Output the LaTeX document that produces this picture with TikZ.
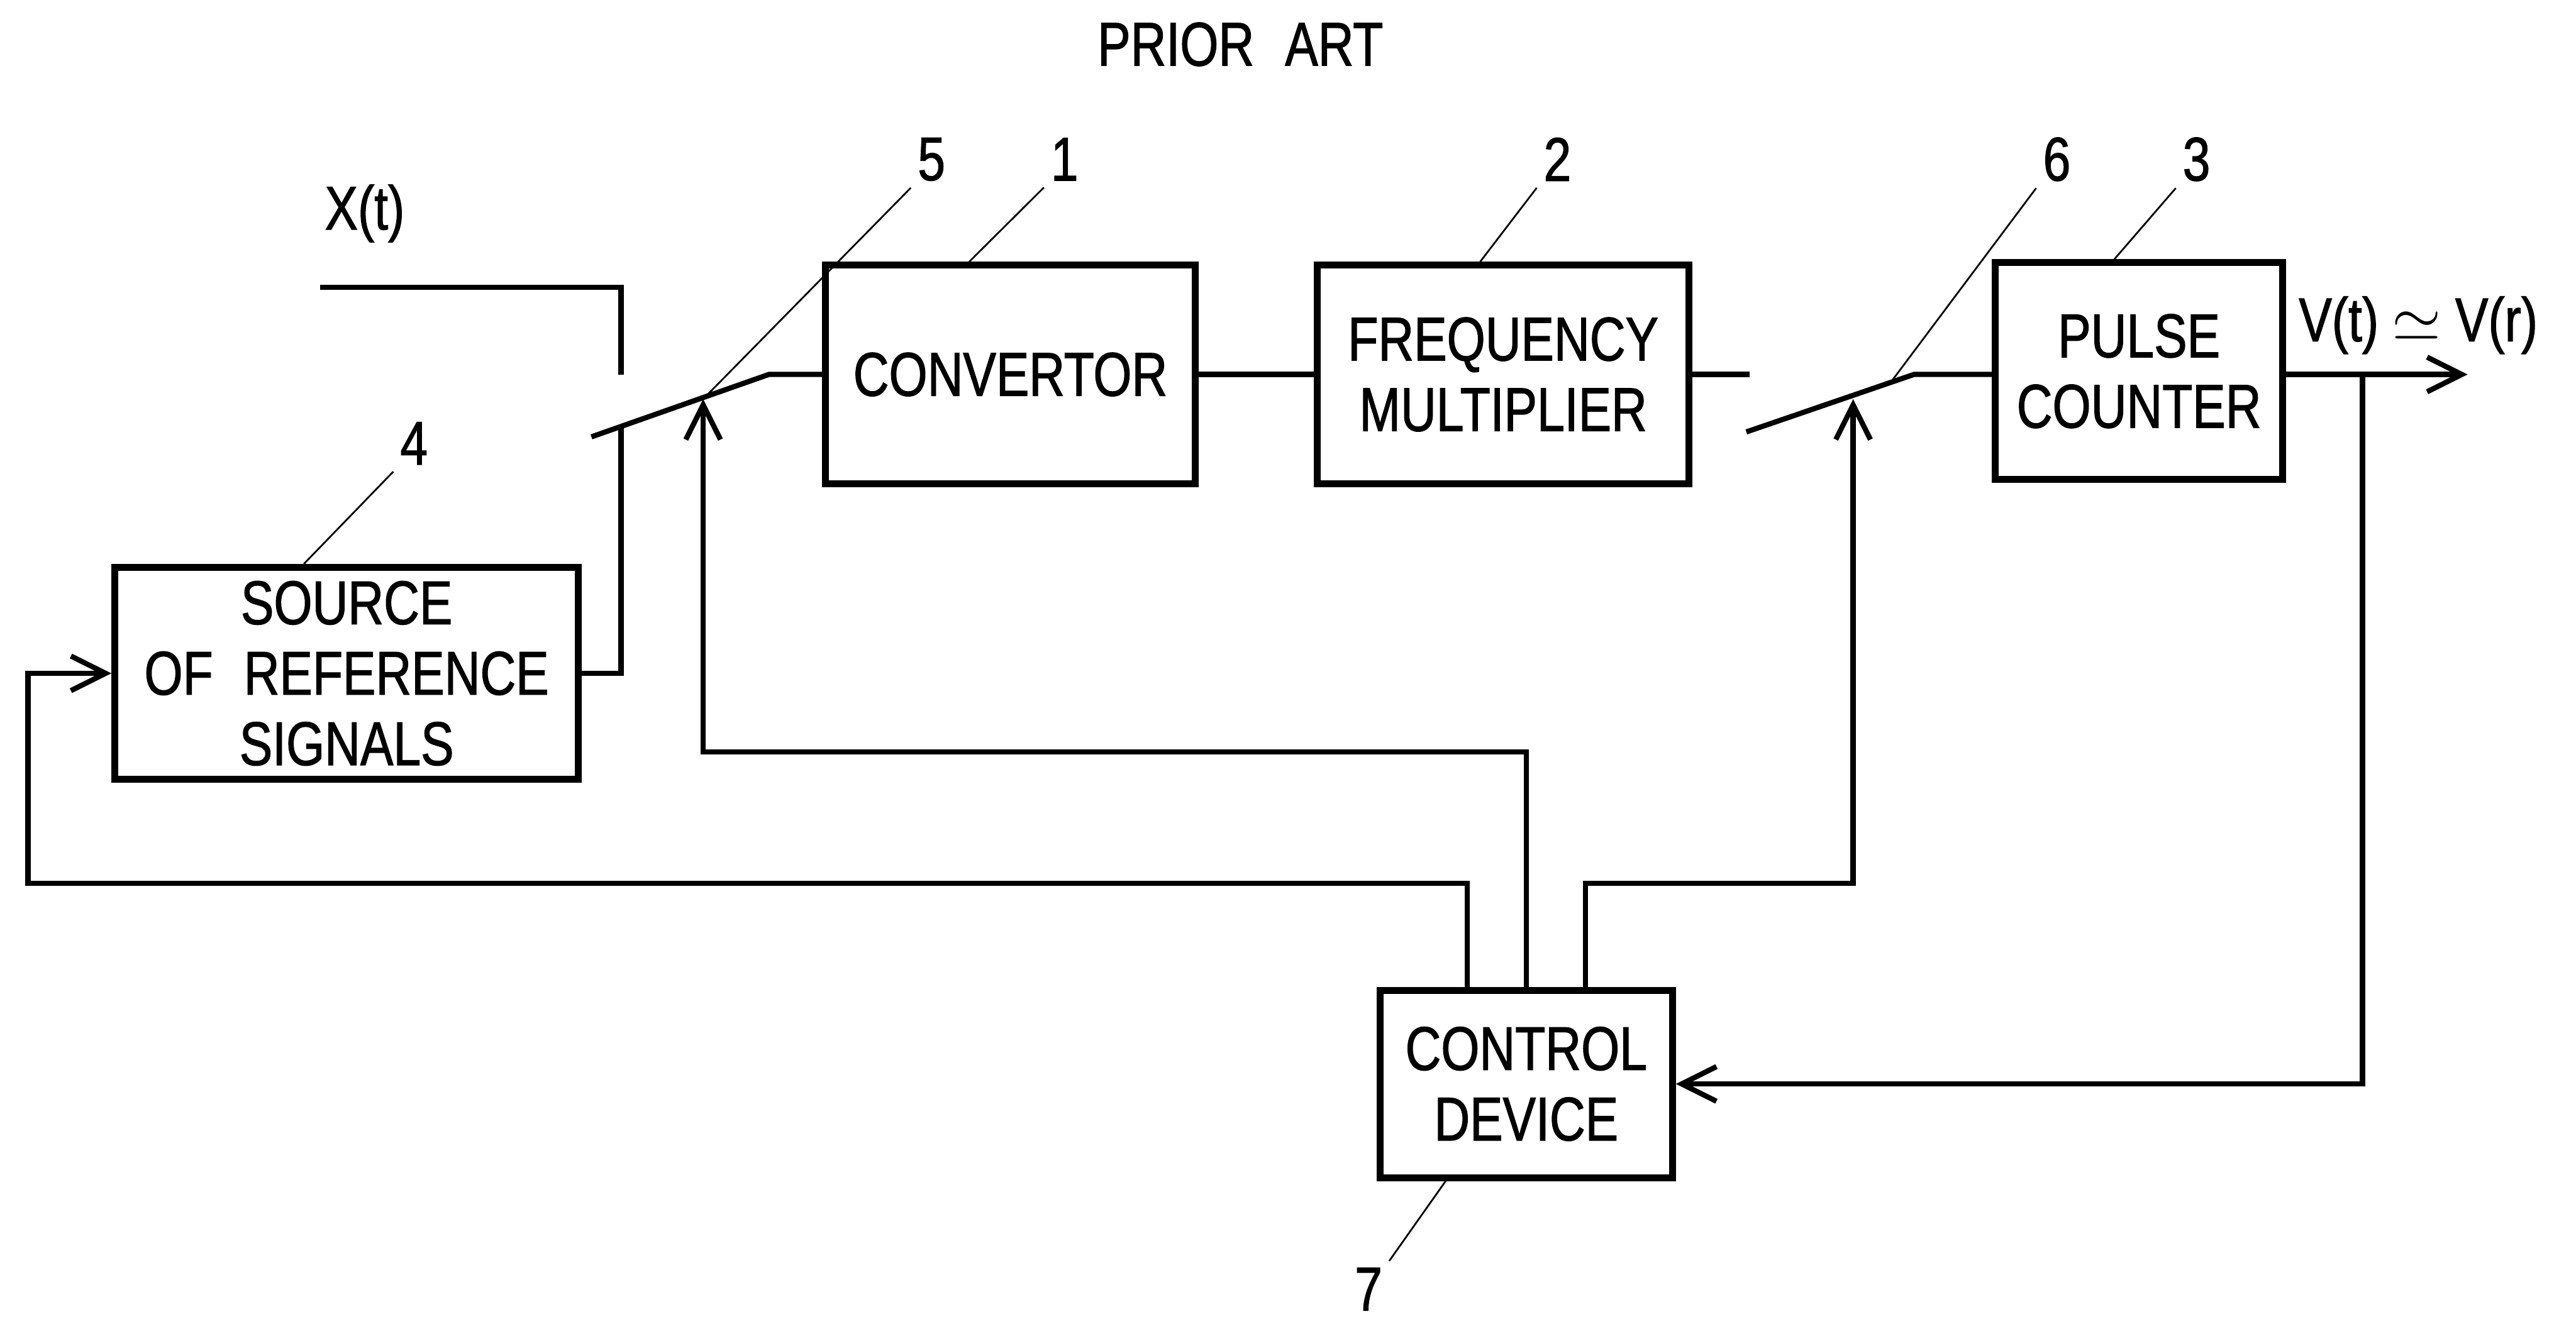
\documentclass[tikz,border=0pt]{standalone}
\usepackage{fontspec}
\newfontfamily\patfont[FakeStretch=0.8, FakeBold=1.2]{Liberation Sans}
\usetikzlibrary{arrows.meta, positioning}

\begin{document}
\begin{tikzpicture}[
        x=0.01cm, y=-0.01cm,
        font=\patfont\fontsize{10.7}{12.2}\selectfont,
        block/.style={rectangle, draw, line width=1.2pt, align=center, inner sep=0pt},
        wire/.style={line width=0.9pt},
        arr/.style={-{Straight Barb[length=6pt, width=6pt]}, line width=0.9pt},
        lead/.style={line width=0.3pt},
        num/.style={inner sep=1pt}
    ]
        \useasboundingbox (0,0) rectangle (1568,803);
        \node (title) at (755,27) {PRIOR\enspace ART};

        % blocks
        \node[block, minimum width=2.25cm, minimum height=1.33cm] (conv) at (615,228) {CONVERTOR};
        \node[block, minimum width=2.26cm, minimum height=1.33cm] (fmul) at (915,228) {FREQUENCY\\MULTIPLIER};
        \node[block, minimum width=1.75cm, minimum height=1.32cm] (pcnt) at (1302,226) {PULSE\\COUNTER};
        \node[block, minimum width=2.82cm, minimum height=1.29cm] (src) at (211,410) {SOURCE\\OF\enspace REFERENCE\\SIGNALS};
        \node[block, minimum width=1.78cm, minimum height=1.14cm] (ctrl) at (929,660) {CONTROL\\DEVICE};

        % switch contacts
        \node (xt) at (222,130) {X(t)};
        \coordinate (xin) at (195,175);
        \coordinate (xc) at (378,228);
        \coordinate (b5a) at (360,266);
        \coordinate (b5b) at (468,228);
        \coordinate (s5) at (428,243);
        \coordinate (fstub) at (1065,228);
        \coordinate (b6a) at (1063,263);
        \coordinate (b6b) at (1165,228);
        \coordinate (s6) at (1128,243);
        \coordinate (out) at (1502,228);
        \coordinate (tap) at (1438,228);

        \draw[wire] (xin) -| (xc);
        \draw[wire] (b5a) -- (b5b) -- (conv.west);
        \draw[wire] (src.east) -| (378,260);
        \draw[wire] (conv.east) -- (fmul.west);
        \draw[wire] (fmul.east) -- (fstub);
        \draw[wire] (b6a) -- (b6b) -- (pcnt.west |- 0,228);
        \draw[arr] (pcnt.east |- out) -- (out);
        \node (vout) at (1472,198) {V(t) $\simeq$ V(r)};

        % control lines
        \draw[arr] (ctrl.north) -- ++(0,-143) -| (s5);
        \draw[arr] ([xshift=0.36cm]ctrl.north) -- ++(0,-63) -| (s6);
        \draw[arr] ([xshift=-0.36cm]ctrl.north) -- ++(0,-63) -| (17,410) -- (src.west);
        \draw[arr] (tap) |- (ctrl.east);

        % reference numerals
        \node[num] (n5) at (567,97) {5};
        \node[num] (n1) at (648,97) {1};
        \node[num] (n2) at (948,97) {2};
        \node[num] (n6) at (1252,97) {6};
        \node[num] (n3) at (1337,97) {3};
        \node[num] (n4) at (252,270) {4};
        \node[num] (n7) at (833,785) {7};
        \draw[lead] (n5.south west) -- (s5);
        \draw[lead] (n1.south west) -- ([xshift=-0.25cm]conv.north);
        \draw[lead] (n2.south west) -- ([xshift=-0.14cm]fmul.north);
        \draw[lead] (n6.south west) -- (1150,234);
        \draw[lead] (n3.south west) -- ([xshift=-0.15cm]pcnt.north);
        \draw[lead] (n4.south west) -- ([xshift=-0.26cm]src.north);
        \draw[lead] (n7.north east) -- ([xshift=-0.49cm]ctrl.south);
    \end{tikzpicture}
\end{document}
